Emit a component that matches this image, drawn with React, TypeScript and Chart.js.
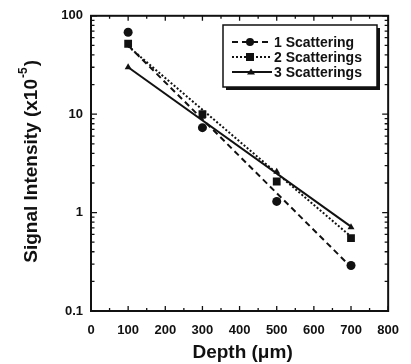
import React, { useEffect, useRef } from 'react';
import { Chart, registerables } from 'chart.js';

Chart.register(...registerables);

// ---- data ----
const depths = [100, 300, 500, 700];
const oneScattering = [68, 7.3, 1.3, 0.29];
const twoScatterings = [52, 10, 2.07, 0.55];
const threeScatterings = [30, 9.4, 2.6, 0.71];

const fitDepths = [100, 700];
const oneScatteringFit = [50, 0.28];
const twoScatteringsFit = [49, 0.57];
const threeScatteringsFit = [30, 0.72];

const seriesLabels = ['1 Scattering', '2 Scatterings', '3 Scatterings'];
const xTickValues = [0, 100, 200, 300, 400, 500, 600, 700, 800];
const xMinorTickValues = [50, 150, 250, 350, 450, 550, 650, 750];
const yTickValues = [0.1, 1, 10, 100];
const yTickLabels = ['0.1', '1', '10', '100'];
const yMinorTickValues = [
  0.2, 0.3, 0.4, 0.5, 0.6, 0.7, 0.8, 0.9,
  2, 3, 4, 5, 6, 7, 8, 9,
  20, 30, 40, 50, 60, 70, 80, 90,
];
const xTitle = 'Depth (\u03bcm)';
const yTitleMain = 'Signal Intensity (x10';
const yTitleSup = '-5';
const yTitleEnd = ')';

const FONT = '"Liberation Sans", Arial, Helvetica, sans-serif';
const INK = '#111';

const seriesStyles = [
  { dash: [6, 4], point: 'circle', radius: 4.5 },
  { dash: [2, 2], point: 'rect', radius: 5.5 },
  { dash: [], point: 'triangle', radius: 4 },
];

const pts = (xs: number[], ys: number[]) => xs.map((x, i) => ({ x, y: ys[i] }));

const framePlugin = {
  id: 'frameAndTitles',
  afterDraw(chart: any) {
    const { ctx, chartArea: a, scales } = chart;
    const xs = scales.x;
    const ys = scales.y;
    ctx.save();
    ctx.strokeStyle = INK;
    ctx.lineWidth = 2;
    ctx.setLineDash([]);
    ctx.strokeRect(a.left, a.top, a.right - a.left, a.bottom - a.top);
    ctx.lineWidth = 1.3;
    ctx.beginPath();
    const xTick = (v: number, len: number) => {
      const px = xs.getPixelForValue(v);
      ctx.moveTo(px, a.bottom);
      ctx.lineTo(px, a.bottom - len);
      ctx.moveTo(px, a.top);
      ctx.lineTo(px, a.top + len);
    };
    const yTick = (v: number, len: number) => {
      const py = ys.getPixelForValue(v);
      ctx.moveTo(a.left, py);
      ctx.lineTo(a.left + len, py);
      ctx.moveTo(a.right, py);
      ctx.lineTo(a.right - len, py);
    };
    xTickValues.forEach((v) => xTick(v, 5));
    xMinorTickValues.forEach((v) => xTick(v, 3));
    yTickValues.forEach((v) => yTick(v, 6));
    yMinorTickValues.forEach((v) => yTick(v, 3.5));
    ctx.stroke();

    // x title
    ctx.fillStyle = INK;
    ctx.font = `bold 19px ${FONT}`;
    ctx.textAlign = 'center';
    ctx.textBaseline = 'alphabetic';
    ctx.fillText(xTitle, (a.left + a.right) / 2 + 3, 358);

    // y title with superscript
    ctx.save();
    ctx.translate(37, (a.top + a.bottom) / 2 - 2);
    ctx.rotate(-Math.PI / 2);
    ctx.textAlign = 'left';
    ctx.font = `bold 19px ${FONT}`;
    const w1 = ctx.measureText(yTitleMain).width;
    const w3 = ctx.measureText(yTitleEnd).width;
    ctx.font = `bold 12px ${FONT}`;
    const w2 = ctx.measureText(yTitleSup).width;
    let x0 = -(w1 + w2 + w3 + 2) / 2;
    ctx.font = `bold 19px ${FONT}`;
    ctx.fillText(yTitleMain, x0, 0);
    x0 += w1 + 1;
    ctx.font = `bold 12px ${FONT}`;
    ctx.fillText(yTitleSup, x0, -10);
    x0 += w2 + 1;
    ctx.font = `bold 19px ${FONT}`;
    ctx.fillText(yTitleEnd, x0, 0);
    ctx.restore();

    // legend box
    const bx = 223, by = 25, bw = 154, bh = 62;
    ctx.fillStyle = INK;
    ctx.fillRect(bx + 3, by + 3, bw, bh);
    ctx.fillStyle = '#fff';
    ctx.fillRect(bx, by, bw, bh);
    ctx.lineWidth = 1.5;
    ctx.strokeStyle = INK;
    ctx.strokeRect(bx, by, bw, bh);
    const rows = [42, 57, 72];
    seriesLabels.forEach((label, i) => {
      const st = seriesStyles[i];
      const y = rows[i];
      ctx.strokeStyle = INK;
      ctx.lineWidth = 2;
      ctx.setLineDash(st.dash);
      ctx.beginPath();
      ctx.moveTo(232, y);
      ctx.lineTo(272, y);
      ctx.stroke();
      ctx.setLineDash([]);
      ctx.fillStyle = INK;
      ctx.beginPath();
      if (st.point === 'circle') {
        ctx.arc(250, y, 4, 0, Math.PI * 2);
      } else if (st.point === 'rect') {
        ctx.rect(246, y - 4, 8, 8);
      } else {
        ctx.moveTo(251, y - 3.5);
        ctx.lineTo(255, y + 2.5);
        ctx.lineTo(247, y + 2.5);
        ctx.closePath();
      }
      ctx.fill();
      ctx.font = `bold 14px ${FONT}`;
      ctx.textAlign = 'left';
      ctx.textBaseline = 'middle';
      ctx.fillText(label, 274, y + 1);
    });
    ctx.restore();
  },
};

export default function App() {
  const ref = useRef<HTMLCanvasElement | null>(null);

  useEffect(() => {
    if (!ref.current) return;
    const series = [oneScattering, twoScatterings, threeScatterings];
    const fits = [oneScatteringFit, twoScatteringsFit, threeScatteringsFit];
    const datasets: any[] = [];
    series.forEach((vals, i) => {
      const st = seriesStyles[i];
      datasets.push({
        label: seriesLabels[i] + ' fit',
        data: pts(fitDepths, fits[i]),
        showLine: true,
        borderColor: INK,
        borderWidth: 2,
        borderDash: st.dash,
        pointRadius: 0,
        fill: false,
      });
      datasets.push({
        label: seriesLabels[i],
        data: pts(depths, vals),
        showLine: false,
        pointStyle: st.point,
        pointRadius: st.radius,
        pointBackgroundColor: INK,
        pointBorderColor: INK,
        pointBorderWidth: 0,
      });
    });

    const chart = new Chart(ref.current, {
      type: 'scatter',
      data: { datasets },
      options: {
        animation: false,
        responsive: false,
        events: [],
        layout: { padding: { top: 15, right: 22, left: 0, bottom: 0 } },
        plugins: { legend: { display: false }, tooltip: { enabled: false }, title: { display: false } },
        scales: {
          x: {
            type: 'linear',
            min: 0,
            max: 800,
            afterBuildTicks: (s: any) => {
              s.ticks = xTickValues.map((v) => ({ value: v }));
            },
            afterFit: (s: any) => {
              s.height = 53;
            },
            grid: { display: false, drawTicks: false },
            border: { display: false },
            ticks: {
              autoSkip: false,
              maxRotation: 0,
              padding: 12,
              color: INK,
              font: { family: FONT, size: 13, weight: 'bold' },
              callback: (v: any) => String(v),
            },
          },
          y: {
            type: 'logarithmic',
            min: 0.1,
            max: 100,
            afterBuildTicks: (s: any) => {
              s.ticks = yTickValues.map((v) => ({ value: v }));
            },
            afterFit: (s: any) => {
              s.width = 91;
            },
            grid: { display: false, drawTicks: false },
            border: { display: false },
            ticks: {
              autoSkip: false,
              padding: 8,
              color: INK,
              font: { family: FONT, size: 13, weight: 'bold' },
              callback: (v: any) => {
                const idx = yTickValues.findIndex((t) => Math.abs(t - v) < 1e-9);
                return idx >= 0 ? yTickLabels[idx] : '';
              },
            },
          },
        },
      },
      plugins: [framePlugin],
    } as any);
    return () => chart.destroy();
  }, []);

  return (
    <div style={{ position: 'absolute', left: 0, top: 0, width: 411, height: 364, background: '#fff' }}>
      <canvas ref={ref} width={411} height={364} style={{ display: 'block' }} />
    </div>
  );
}
